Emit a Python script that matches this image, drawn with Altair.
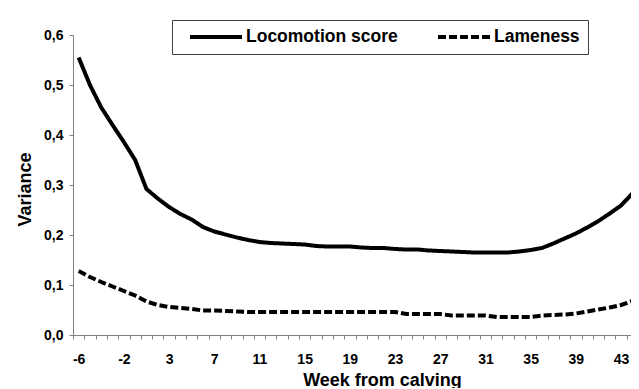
import altair as alt
import pandas as pd

# ---- data ----
weeks = [-6, -5, -4, -3, -2, -1,
         1, 2, 3, 4, 5, 6, 7, 8, 9, 10, 11, 12, 13, 14, 15, 16, 17, 18, 19, 20,
         21, 22, 23, 24, 25, 26, 27, 28, 29, 30, 31, 32, 33, 34, 35, 36, 37, 38,
         39, 40, 41, 42, 43, 44]

locomotion = [0.555, 0.500, 0.455, 0.420, 0.386, 0.350,
              0.292, 0.273, 0.256, 0.242, 0.231, 0.216, 0.207, 0.201, 0.195, 0.190,
              0.186, 0.184, 0.183, 0.182, 0.181, 0.178, 0.177, 0.177, 0.177, 0.175,
              0.174, 0.174, 0.172, 0.171, 0.171, 0.169, 0.168, 0.167, 0.166, 0.165,
              0.165, 0.165, 0.165, 0.167, 0.170, 0.174, 0.183, 0.193, 0.203, 0.215,
              0.228, 0.243, 0.259, 0.283]

lameness = [0.128, 0.116, 0.106, 0.097, 0.088, 0.079,
            0.067, 0.060, 0.056, 0.054, 0.052, 0.049, 0.049, 0.048, 0.047, 0.046,
            0.046, 0.046, 0.046, 0.046, 0.046, 0.046, 0.046, 0.046, 0.046, 0.046,
            0.046, 0.046, 0.046, 0.042, 0.042, 0.042, 0.042, 0.039, 0.039, 0.039,
            0.039, 0.036, 0.036, 0.036, 0.036, 0.039, 0.040, 0.041, 0.043, 0.047,
            0.051, 0.055, 0.060, 0.068]

series_names = ["Locomotion score", "Lameness"]
x_labels = [-6, -2, 3, 7, 11, 15, 19, 23, 27, 31, 35, 39, 43]
y_ticks = [0.0, 0.1, 0.2, 0.3, 0.4, 0.5, 0.6]

df = pd.DataFrame({
    "week": weeks + weeks,
    "variance": locomotion + lameness,
    "series": [series_names[0]] * len(weeks) + [series_names[1]] * len(weeks),
})

FONT = "Liberation Sans"
AXIS_GRAY = "#808080"

x_label_expr = "indexof([" + ",".join(str(v) for v in x_labels) + "], datum.value) >= 0 ? datum.label : ''"

chart = alt.Chart(df).mark_line(color="black", strokeWidth=4).encode(
    x=alt.X(
        "week:O",
        sort=weeks,
        bandPosition=0.5,
        scale=alt.Scale(type="band", paddingInner=0, paddingOuter=0),
        axis=alt.Axis(
            title="Week from calving",
            labelExpr=x_label_expr,
            labelAngle=0,
            labelOverlap=False,
            tickBand="extent",
            tickSize=4,
            tickColor=AXIS_GRAY,
            domainColor=AXIS_GRAY,
            grid=False,
            labelFont=FONT,
            labelFontSize=14,
            labelFontWeight="bold",
            labelColor="black",
            labelPadding=13,
            titleFont=FONT,
            titleFontSize=18,
            titleFontWeight="bold",
            titleColor="black",
            titleX=309,
            titleY=50,
            titleAlign="center",
            titleBaseline="alphabetic",
        ),
    ),
    y=alt.Y(
        "variance:Q",
        scale=alt.Scale(domain=[0, 0.6], nice=False),
        axis=alt.Axis(
            title="Variance",
            values=y_ticks,
            labelExpr="replace(format(datum.value, '.1f'), '.', ',')",
            tickSize=4,
            tickColor=AXIS_GRAY,
            domainColor=AXIS_GRAY,
            grid=False,
            labelFont=FONT,
            labelFontSize=14,
            labelFontWeight="bold",
            labelColor="black",
            labelPadding=6,
            titleFont=FONT,
            titleFontSize=18,
            titleFontWeight="bold",
            titleColor="black",
            titleAngle=270,
            titleX=-43,
            titleY=154,
            titleAlign="center",
            titleBaseline="alphabetic",
        ),
    ),
    strokeDash=alt.StrokeDash(
        "series:N",
        scale=alt.Scale(domain=series_names, range=[[1, 0], [8, 3]]),
        legend=alt.Legend(
            title=None,
            orient="none",
            legendX=99,
            legendY=-15,
            direction="horizontal",
            symbolType="stroke",
            symbolSize=2704,
            symbolStrokeWidth=4,
            symbolStrokeColor="black",
            symbolOffset=8,
            labelOffset=2,
            columnPadding=30,
            padding=8,
            clipHeight=18,
            strokeColor="#404040",
            fillColor="white",
            labelFont=FONT,
            labelFontSize=17.5,
            labelFontWeight="bold",
            labelColor="black",
            labelLimit=300,
        ),
    ),
).properties(
    width=565,
    height=300,
    padding={"left": 65, "top": 27, "right": -7, "bottom": 53},
    autosize=alt.AutoSizeParams(type="none"),
).configure_view(stroke=None)

chart.save("out.html", embed_options={"renderer": "svg", "actions": False})
